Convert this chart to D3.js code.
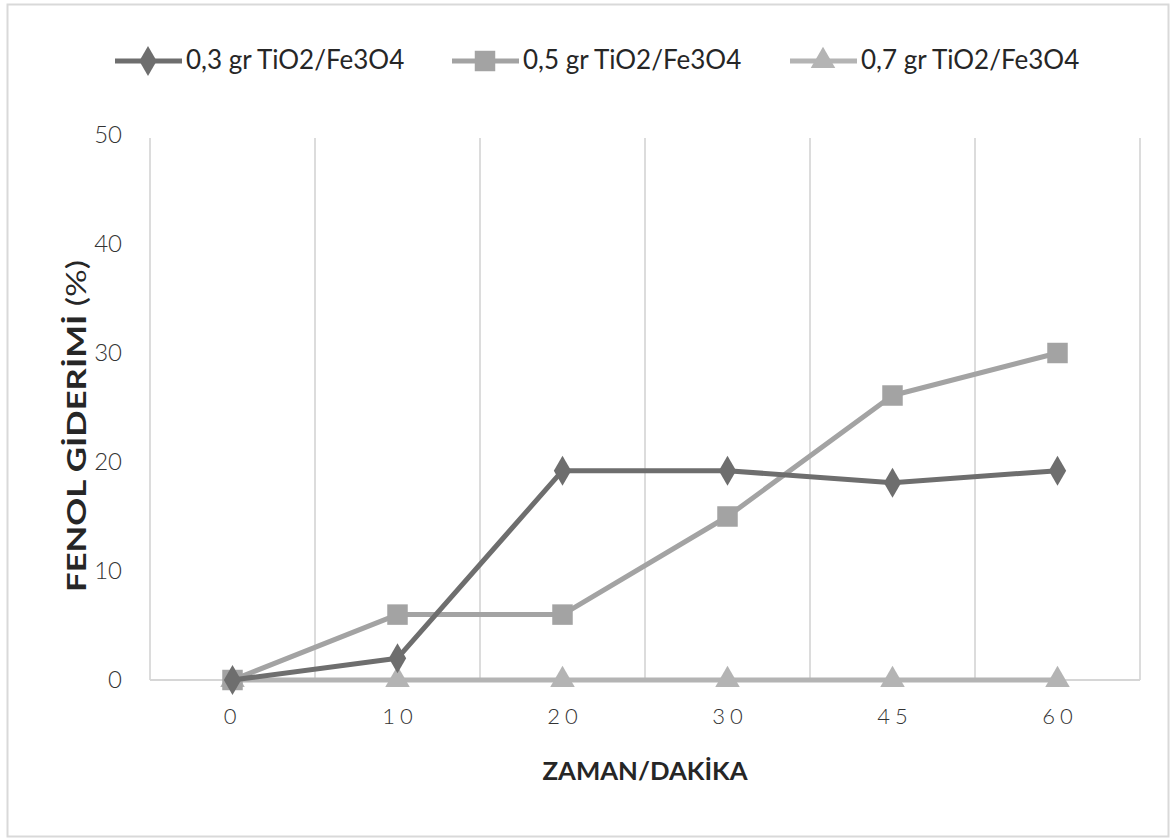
<!DOCTYPE html>
<html>
<head>
<meta charset="utf-8">
<script src="https://cdn.jsdelivr.net/npm/d3@7"></script>
<style>
  html, body { margin: 0; padding: 0; background: #fff; }
  svg { display: block; }
  text { font-family: Lato, "Open Sans", sans-serif; }
</style>
</head>
<body>
<svg id="chart" width="1175" height="840"></svg>
<script>
// Sampling times (minutes) shown as evenly spaced categories
const times = ["0", "10", "20", "30", "45", "60"];
// Phenol removal (%) for each catalyst dose
const dose03 = [0, 2, 19.2, 19.2, 18.1, 19.2];
const dose05 = [0, 6, 6, 15, 26.1, 30];
const dose07 = [0, 0, 0, 0, 0, 0];
const seriesNames = ["0,3 gr TiO2/Fe3O4", "0,5 gr TiO2/Fe3O4", "0,7 gr TiO2/Fe3O4"];
const yTicks = [0, 10, 20, 30, 40, 50];

const series = [
  { name: seriesNames[0], values: dose03, color: "#6e6e6e", marker: "diamond" },
  { name: seriesNames[1], values: dose05, color: "#a3a3a3", marker: "square" },
  { name: seriesNames[2], values: dose07, color: "#b4b4b4", marker: "triangle" }
];

const svg = d3.select("#chart");
const plot = { left: 150, right: 1140, top: 135, bottom: 680 };

// outer frame
svg.append("rect")
  .attr("x", 7.5).attr("y", 4.5).attr("width", 1161).attr("height", 832)
  .attr("fill", "#fff").attr("stroke", "#d9d9d9").attr("stroke-width", 2);

const x = d3.scaleBand().domain(times).range([plot.left, plot.right]).padding(0);
const y = d3.scaleLinear().domain([0, 50]).range([plot.bottom, plot.top]);

// vertical gridlines on category boundaries
const bounds = times.map(t => x(t)).concat([plot.right]);
svg.append("g").selectAll("line").data(bounds).join("line")
  .attr("x1", d => d).attr("x2", d => d)
  .attr("y1", plot.top + 3).attr("y2", plot.bottom)
  .attr("stroke", "#dcdcdc").attr("stroke-width", 2);

// baseline at zero
svg.append("line")
  .attr("x1", plot.left).attr("x2", plot.right)
  .attr("y1", y(0)).attr("y2", y(0))
  .attr("stroke", "#d6d6d6").attr("stroke-width", 2);

// y axis labels
const yAxis = d3.axisLeft(y).tickValues(yTicks).tickSize(0).tickPadding(28);
const gy = svg.append("g").attr("transform", `translate(${plot.left},0)`).call(yAxis);
gy.select(".domain").remove();
gy.selectAll("text")
  .attr("font-size", 24).attr("fill", "#333").attr("font-weight", 300)
  .attr("font-family", "Lato, sans-serif");

// x axis labels
const xAxis = d3.axisBottom(x).tickSize(0).tickPadding(28);
const gx = svg.append("g").attr("transform", `translate(0,${plot.bottom})`).call(xAxis);
gx.select(".domain").remove();
gx.selectAll("text")
  .attr("font-size", 22).attr("fill", "#333").attr("font-weight", 300)
  .attr("letter-spacing", "5px")
  .attr("dx", d => d.length > 1 ? "2.5px" : 0);

// axis titles
svg.append("text")
  .attr("x", (plot.left + plot.right) / 2).attr("y", 780)
  .attr("text-anchor", "middle").attr("font-size", 24).attr("font-weight", 700)
  .attr("font-family", "'Open Sans', sans-serif")
  .attr("fill", "#262626")
  .attr("textLength", 205).attr("lengthAdjust", "spacingAndGlyphs")
  .text("ZAMAN/DAKİKA");

const yTitle = svg.append("text")
  .attr("transform", `translate(86,426) rotate(-90)`)
  .attr("text-anchor", "middle").attr("font-size", 26).attr("font-weight", 700)
  .attr("font-family", "'Open Sans', sans-serif")
  .attr("fill", "#262626")
  .attr("textLength", 332).attr("lengthAdjust", "spacingAndGlyphs");
yTitle.append("tspan").text("FENOL GİDERİMİ ");
yTitle.append("tspan").attr("font-weight", 400).text("(%)");

// marker shapes
const symbolOf = {
  diamond: d3.symbol().type(d3.symbolDiamond).size(260),
  square: d3.symbol().type(d3.symbolSquare).size(420),
  triangle: d3.symbol().type(d3.symbolTriangle).size(260)
};

const line = d3.line()
  .x((d, i) => x(times[i]) + x.bandwidth() / 2)
  .y(d => y(d));

// draw the lines in reverse order so the first series sits on top
[...series].reverse().forEach(s => {
  const g = svg.append("g");
  g.append("path").datum(s.values)
    .attr("d", line).attr("fill", "none")
    .attr("stroke", s.color).attr("stroke-width", 5)
    .attr("stroke-linejoin", "round");
  g.selectAll("path.m").data(s.values).join("path").attr("class", "m")
    .attr("transform", (d, i) => `translate(${x(times[i]) + x.bandwidth() / 2},${y(d)})`)
    .attr("d", symbolOf[s.marker]())
    .attr("fill", s.color);
});

// legend
const legendX = [115, 452, 790];
series.forEach((s, i) => {
  const lx = legendX[i], ly = 61;
  const g = svg.append("g");
  g.append("line").attr("x1", lx).attr("x2", lx + 67)
    .attr("y1", ly).attr("y2", ly)
    .attr("stroke", s.color).attr("stroke-width", 5);
  g.append("path").attr("transform", `translate(${lx + 33},${ly})`)
    .attr("d", symbolOf[s.marker]()).attr("fill", s.color);
  g.append("text").attr("x", lx + 71).attr("y", ly + 8)
    .attr("font-size", 26).attr("fill", "#262626")
    .text(s.name);
});
</script>
</body>
</html>
